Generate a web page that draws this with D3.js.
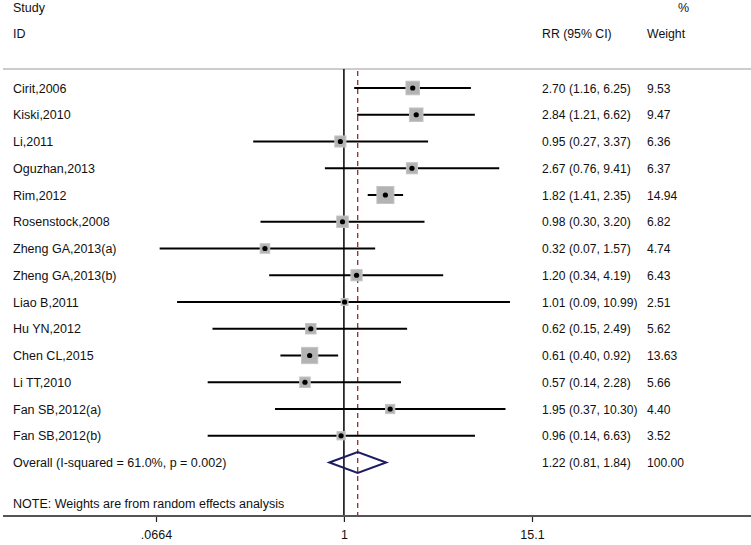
<!DOCTYPE html>
<html>
<head>
<meta charset="utf-8">
<script src="https://cdn.jsdelivr.net/npm/d3@7"></script>
<style>
  html, body { margin: 0; padding: 0; background: #fff; }
  svg { display: block; }
  text { font-family: "Liberation Sans", Arial, sans-serif; font-size: 12.5px; fill: #111; }
  text.num { font-size: 12.1px; }
</style>
</head>
<body>
<div id="chart"></div>
<script>
const studies = ["Cirit,2006","Kiski,2010","Li,2011","Oguzhan,2013","Rim,2012","Rosenstock,2008",
  "Zheng GA,2013(a)","Zheng GA,2013(b)","Liao B,2011","Hu YN,2012","Chen CL,2015","Li TT,2010",
  "Fan SB,2012(a)","Fan SB,2012(b)"];
const rr     = [2.70, 2.84, 0.95, 2.67, 1.82, 0.98, 0.32, 1.20, 1.01, 0.62, 0.61, 0.57, 1.95, 0.96];
const lower  = [1.16, 1.21, 0.27, 0.76, 1.41, 0.30, 0.07, 0.34, 0.09, 0.15, 0.40, 0.14, 0.37, 0.14];
const upper  = [6.25, 6.62, 3.37, 9.41, 2.35, 3.20, 1.57, 4.19, 10.99, 2.49, 0.92, 2.28, 10.30, 6.63];
const weights= [9.53, 9.47, 6.36, 6.37, 14.94, 6.82, 4.74, 6.43, 2.51, 5.62, 13.63, 5.66, 4.40, 3.52];
const overallLabel = "Overall  (I-squared = 61.0%, p = 0.002)";
const overall = {rr: 1.22, lo: 0.81, hi: 1.84, w: 100.00};
const tickValues = [0.0664, 1, 15.1];
const tickLabels = [".0664", "1", "15.1"];
const noteText = "NOTE: Weights are from random effects analysis";

const W = 751, H = 545;
const svg = d3.select("#chart").append("svg").attr("width", W).attr("height", H);

const x = d3.scaleLog().domain([0.0664, 15.1]).range([156, 532]);
const rowY = d3.scaleLinear().domain([0, 14]).range([88, 462.5]);
const boxSide = d3.scaleSqrt().domain([0, 14.94]).range([0, 17]);

const topY = 69, axisY = 516;
const fmt = d3.format(".2f");

// headers
svg.append("text").attr("x", 13).attr("y", 12).text("Study");
svg.append("text").attr("x", 13).attr("y", 38).text("ID");
svg.append("text").attr("x", 678).attr("y", 12).text("%");
svg.append("text").attr("x", 542).attr("y", 38).style("font-size", "12.3px").text("RR (95% CI)");
svg.append("text").attr("x", 647).attr("y", 38).style("font-size", "12.3px").text("Weight");

// separator line
svg.append("line").attr("x1", 3).attr("x2", W).attr("y1", topY).attr("y2", topY)
  .attr("stroke", "#bbbbbb").attr("stroke-width", 1.5);

// null line
svg.append("line").attr("x1", x(1)).attr("x2", x(1)).attr("y1", topY).attr("y2", axisY)
  .attr("stroke", "#000").attr("stroke-width", 1.5);

// overall dashed line
svg.append("line").attr("x1", x(overall.rr)).attr("x2", x(overall.rr)).attr("y1", topY + 2).attr("y2", axisY)
  .attr("stroke", "#9b2a2a").attr("stroke-width", 1.3).attr("stroke-dasharray", "5,4");

// study rows
const rows = svg.append("g").selectAll("g").data(studies).join("g");
rows.append("text").attr("x", 13).attr("y", (d, i) => rowY(i) + 4.5).text(d => d);
rows.append("line")
  .attr("x1", (d, i) => x(lower[i])).attr("x2", (d, i) => x(upper[i]))
  .attr("y1", (d, i) => rowY(i)).attr("y2", (d, i) => rowY(i))
  .attr("stroke", "#000").attr("stroke-width", 1.8);
rows.append("rect")
  .attr("x", (d, i) => x(rr[i]) - boxSide(weights[i]) / 2)
  .attr("y", (d, i) => rowY(i) - boxSide(weights[i]) / 2)
  .attr("width", (d, i) => boxSide(weights[i]))
  .attr("height", (d, i) => boxSide(weights[i]))
  .attr("fill", "#b3b3b3").attr("stroke", "#c4c4c4").attr("stroke-width", 1);
rows.append("circle")
  .attr("cx", (d, i) => x(rr[i])).attr("cy", (d, i) => rowY(i)).attr("r", 2.6).attr("fill", "#000");
rows.append("text").attr("class", "num").attr("x", 542).attr("y", (d, i) => rowY(i) + 4.5)
  .text((d, i) => `${fmt(rr[i])} (${fmt(lower[i])}, ${fmt(upper[i])})`);
rows.append("text").attr("class", "num").attr("x", 647).attr("y", (d, i) => rowY(i) + 4.5)
  .text((d, i) => fmt(weights[i]));

// overall row
const oy = rowY(14);
svg.append("text").attr("x", 13).attr("y", oy + 4.5).text(overallLabel);
svg.append("path")
  .attr("d", `M${x(overall.lo)},${oy} L${x(overall.rr)},${oy - 10.5} L${x(overall.hi)},${oy} L${x(overall.rr)},${oy + 10.5} Z`)
  .attr("fill", "none").attr("stroke", "#1c1c64").attr("stroke-width", 2);
svg.append("text").attr("class", "num").attr("x", 542).attr("y", oy + 4.5)
  .text(`${fmt(overall.rr)} (${fmt(overall.lo)}, ${fmt(overall.hi)})`);
svg.append("text").attr("class", "num").attr("x", 647).attr("y", oy + 4.5).text(fmt(overall.w));

// note
svg.append("text").attr("x", 13).attr("y", 508).text(noteText);

// axis
const axis = d3.axisBottom(x).tickValues(tickValues).tickFormat((d, i) => tickLabels[i]).tickSize(6).tickPadding(8);
const ag = svg.append("g").attr("transform", `translate(0,${axisY})`).call(axis);
ag.select(".domain").remove();
ag.selectAll(".tick line").attr("stroke", "#222").attr("stroke-width", 1.2);
ag.selectAll(".tick text").attr("font-family", "Liberation Sans, Arial, sans-serif").attr("font-size", 12.3).attr("fill", "#111");
svg.append("line").attr("x1", 3).attr("x2", W).attr("y1", axisY).attr("y2", axisY)
  .attr("stroke", "#555").attr("stroke-width", 2);
</script>
</body>
</html>
